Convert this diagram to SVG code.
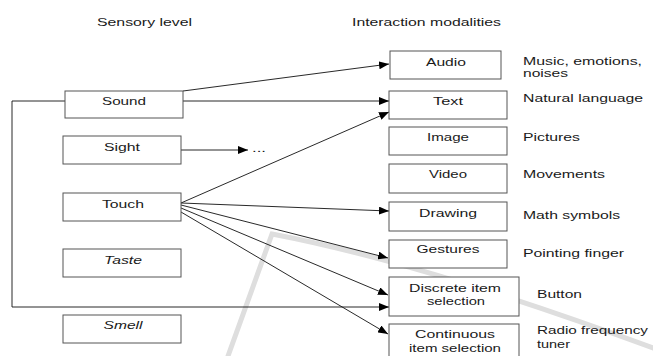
<svg xmlns="http://www.w3.org/2000/svg" width="653" height="356" viewBox="0 0 653 356">
<style>
text{font-family:"Liberation Sans",Arial,sans-serif;font-size:11px;fill:#1a1a1a}
.c{text-anchor:middle}
.i{font-style:italic}
.box{fill:#fff;stroke:#555;stroke-width:1}
.ln{fill:none;stroke:#111;stroke-width:0.9}
.wm{fill:none;stroke:#dedede;stroke-width:5;stroke-linecap:round}
</style>
<defs>
<marker id="ah" markerWidth="10" markerHeight="8" refX="10" refY="4" orient="auto" markerUnits="userSpaceOnUse">
<path d="M0,0 L10,4 L0,8 Z" fill="#000"/>
</marker>
</defs>
<rect width="653" height="356" fill="#fff"/>
<g id="watermark">
<path class="wm" d="M228,356 L272,234 Q420,262 653,348"/>
</g>
<g id="headers">
<text x="97" y="26" textLength="95" lengthAdjust="spacingAndGlyphs">Sensory level</text>
<text x="352" y="26" textLength="149" lengthAdjust="spacingAndGlyphs">Interaction modalities</text>
</g>
<g id="connectors">
<line class="ln" x1="183" y1="91" x2="389" y2="64" marker-end="url(#ah)"/>
<line class="ln" x1="183" y1="101" x2="389" y2="101" marker-end="url(#ah)"/>
<line class="ln" x1="181" y1="150" x2="248" y2="150" marker-end="url(#ah)"/>
<line class="ln" x1="181" y1="203" x2="389" y2="112" marker-end="url(#ah)"/>
<line class="ln" x1="181" y1="203" x2="389" y2="211" marker-end="url(#ah)"/>
<line class="ln" x1="181" y1="205" x2="388" y2="258" marker-end="url(#ah)"/>
<line class="ln" x1="181" y1="208" x2="388" y2="295" marker-end="url(#ah)"/>
<line class="ln" x1="181" y1="212" x2="388" y2="334" marker-end="url(#ah)"/>
<polyline class="ln" points="65,101 12,101 12,307 389,307" marker-end="url(#ah)"/>
</g>
<g id="sound"><rect class="box" x="65" y="91" width="118" height="27"/><text class="c" x="124" y="105" textLength="44" lengthAdjust="spacingAndGlyphs">Sound</text></g>
<g id="sight"><rect class="box" x="63" y="136" width="118" height="28"/><text class="c" x="122" y="151" textLength="36" lengthAdjust="spacingAndGlyphs">Sight</text></g>
<g id="dots"><text x="252" y="152" textLength="14" lengthAdjust="spacingAndGlyphs">...</text></g>
<g id="touch"><rect class="box" x="63" y="193" width="118" height="28"/><text class="c" x="123" y="208" textLength="42" lengthAdjust="spacingAndGlyphs">Touch</text></g>
<g id="taste"><rect class="box" x="63" y="249" width="118" height="28"/><text class="c i" x="123" y="264" textLength="38" lengthAdjust="spacingAndGlyphs">Taste</text></g>
<g id="smell"><rect class="box" x="63" y="315" width="118" height="28"/><text class="c i" x="123" y="329" textLength="39" lengthAdjust="spacingAndGlyphs">Smell</text></g>
<g id="audio"><rect class="box" x="390" y="51" width="111" height="28"/><text class="c" x="446" y="66" textLength="40" lengthAdjust="spacingAndGlyphs">Audio</text></g>
<g id="text"><rect class="box" x="389" y="91" width="118" height="28"/><text class="c" x="448" y="105" textLength="30" lengthAdjust="spacingAndGlyphs">Text</text></g>
<g id="image"><rect class="box" x="389" y="127" width="118" height="28"/><text class="c" x="448" y="141" textLength="42" lengthAdjust="spacingAndGlyphs">Image</text></g>
<g id="video"><rect class="box" x="389" y="164" width="118" height="29"/><text class="c" x="448" y="178" textLength="38" lengthAdjust="spacingAndGlyphs">Video</text></g>
<g id="drawing"><rect class="box" x="389" y="202" width="118" height="29"/><text class="c" x="448" y="217" textLength="58" lengthAdjust="spacingAndGlyphs">Drawing</text></g>
<g id="gestures"><rect class="box" x="389" y="240" width="118" height="28"/><text class="c" x="448" y="253" textLength="63" lengthAdjust="spacingAndGlyphs">Gestures</text></g>
<g id="discrete"><rect class="box" x="389" y="277" width="130" height="39"/><text class="c" x="455" y="292" textLength="92" lengthAdjust="spacingAndGlyphs">Discrete item</text><text class="c" x="456" y="305" textLength="58" lengthAdjust="spacingAndGlyphs">selection</text></g>
<g id="continuous"><rect class="box" x="389" y="324" width="130" height="40"/><text class="c" x="455" y="338" textLength="80" lengthAdjust="spacingAndGlyphs">Continuous</text><text class="c" x="455" y="352" textLength="92" lengthAdjust="spacingAndGlyphs">item selection</text></g>
<g id="labels">
<text x="523" y="65" textLength="119" lengthAdjust="spacingAndGlyphs">Music, emotions,</text>
<text x="523" y="77" textLength="45" lengthAdjust="spacingAndGlyphs">noises</text>
<text x="523" y="102" textLength="120" lengthAdjust="spacingAndGlyphs">Natural language</text>
<text x="523" y="141" textLength="57" lengthAdjust="spacingAndGlyphs">Pictures</text>
<text x="523" y="178" textLength="82" lengthAdjust="spacingAndGlyphs">Movements</text>
<text x="523" y="219" textLength="97" lengthAdjust="spacingAndGlyphs">Math symbols</text>
<text x="523" y="257" textLength="101" lengthAdjust="spacingAndGlyphs">Pointing finger</text>
<text x="537" y="298" textLength="45" lengthAdjust="spacingAndGlyphs">Button</text>
<text x="537" y="334" textLength="111" lengthAdjust="spacingAndGlyphs">Radio frequency</text>
<text x="537" y="348" textLength="33" lengthAdjust="spacingAndGlyphs">tuner</text>
</g>
</svg>
